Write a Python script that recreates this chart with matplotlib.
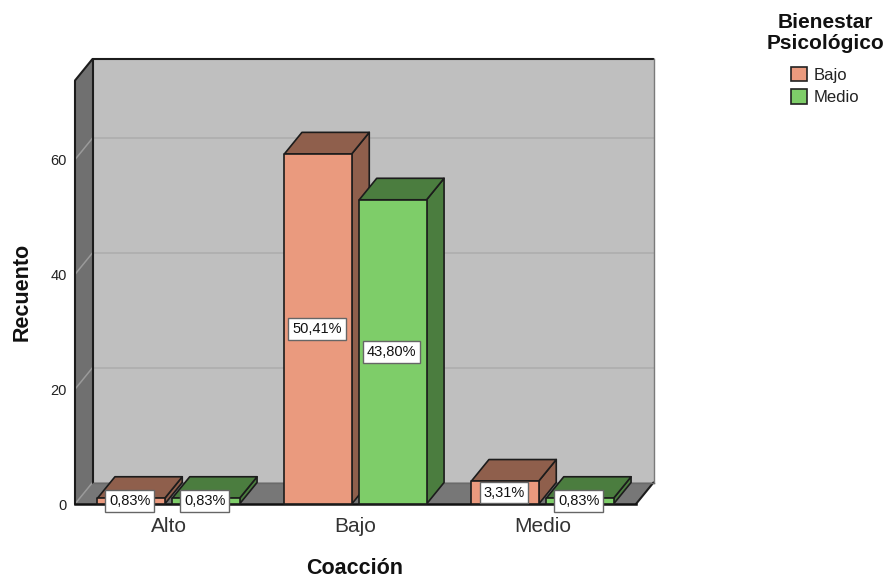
import matplotlib
matplotlib.use("Agg")
import matplotlib.pyplot as plt
from matplotlib.patches import Polygon, Patch

plt.rcParams["font.family"] = ["Liberation Sans", "DejaVu Sans"]

# Counts per coercion level, split by psychological well-being group
categories = ["Alto", "Bajo", "Medio"]
series_names = ["Bajo", "Medio"]
bajo_counts = [1, 61, 4]
medio_counts = [1, 53, 1]
bajo_labels = ["0,83%", "50,41%", "3,31%"]
medio_labels = ["0,83%", "43,80%", "0,83%"]
y_ticks = [0, 20, 40, 60]

W, H = 886, 579
LEFT, RIGHT, BOTTOM, TOP = 75, 636, 504, 80.5
PX_PER_COUNT = 5.74
PX_PER_CAT = (RIGHT - LEFT) / len(categories)

fig = plt.figure(figsize=(W / 100, H / 100), dpi=100, facecolor="white")
ax = fig.add_axes([LEFT / W, 1 - BOTTOM / H, (RIGHT - LEFT) / W, (BOTTOM - TOP) / H])
ax.set_xlim(0, len(categories))
ax.set_ylim(0, (BOTTOM - TOP) / PX_PER_COUNT)
ax.patch.set_visible(False)
for spine in ax.spines.values():
    spine.set_visible(False)

# Depth of the oblique projection, in data units
DX = 17.5 / PX_PER_CAT
DY = 21.5 / PX_PER_COUNT
YMAX = ax.get_ylim()[1]
XMAX = ax.get_xlim()[1]
EDGE = "#1c1c1c"


def face(points, fc, ec=EDGE, lw=1.2, z=1):
    ax.add_patch(Polygon(points, closed=True, fc=fc, ec=ec, lw=lw, zorder=z,
                         clip_on=False, joinstyle="round"))


# Chart box: back wall, floor, left wall
face([(DX, DY), (XMAX + DX, DY), (XMAX + DX, YMAX + DY), (DX, YMAX + DY)],
     "#bfbfbf", ec="none", lw=0)
face([(0, 0), (XMAX, 0), (XMAX + DX, DY), (DX, DY)], "#777777", ec="none", lw=0)
face([(0, 0), (DX, DY), (DX, YMAX + DY), (0, YMAX)], "#707070", ec="none", lw=0)

# Grid lines across the left wall and the back wall
for tick in y_ticks:
    ax.plot([0, DX], [tick, tick + DY], color="#9a9a9a", lw=1.1, zorder=2, clip_on=False)
    if tick > 0:
        ax.plot([DX, XMAX + DX], [tick + DY, tick + DY], color="#b0b0b0", lw=1.4,
                zorder=2, clip_on=False)

# Outline of the box
box = dict(color=EDGE, lw=1.5, zorder=3, clip_on=False, solid_capstyle="round")
ax.plot([0, 0], [0, YMAX], **box)
ax.plot([0, DX, XMAX + DX], [YMAX, YMAX + DY, YMAX + DY], **box)
ax.plot([DX, DX], [DY, YMAX + DY], **box)
ax.plot([XMAX, XMAX + DX], [0, DY], **box)
ax.plot([XMAX + DX, XMAX + DX], [DY, YMAX + DY], color="#7a7a7a", lw=1.0, zorder=3, clip_on=False)
ax.plot([DX, XMAX + DX], [DY, DY], color="#6a6a6a", lw=1.0, zorder=3, clip_on=False)
ax.plot([0, XMAX], [0, 0], color="#111111", lw=1.8, zorder=3, clip_on=False)

BAR_W = 0.36
OFFSET = 0.2
PALETTE = [("#ea9a7e", "#8f5f4c"), ("#7ecd69", "#4b7d3f")]
groups = [(bajo_counts, bajo_labels, -OFFSET), (medio_counts, medio_labels, OFFSET)]

# Bars are drawn left to right so each one overlaps its left neighbour
z = 4
for i in range(len(categories)):
    for s, (counts, labels, off) in enumerate(groups):
        front, shade = PALETTE[s]
        x0 = i + 0.5 + off - BAR_W / 2
        x1 = x0 + BAR_W
        v = counts[i]
        face([(x1, 0), (x1 + DX, DY), (x1 + DX, v + DY), (x1, v)], shade, z=z)
        face([(x0, v), (x1, v), (x1 + DX, v + DY), (x0 + DX, v + DY)], shade, z=z)
        face([(x0, 0), (x1, 0), (x1, v), (x0, v)], front, z=z)
        z += 1

# Percentage boxes sit above all the bars
for i in range(len(categories)):
    for counts, labels, off in groups:
        ax.text(i + 0.5 + off - 0.006, counts[i] / 2, labels[i], ha="center", va="center",
                fontsize=10.5, color="#111111", zorder=50, clip_on=False,
                bbox=dict(boxstyle="square,pad=0.26", fc="white", ec="#666666", lw=1.0))

ax.set_xticks([i + 0.5 for i in range(len(categories))], categories)
ax.set_yticks(y_ticks, [str(t) for t in y_ticks])
ax.tick_params(axis="x", length=0, pad=9, labelsize=15, labelcolor="#333333")
ax.tick_params(axis="y", length=0, pad=6, labelsize=10.5, labelcolor="#222222")

fig.text(355 / W, 1 - 569 / H, "Coacción", ha="center", va="center",
         fontsize=15.5, fontweight="bold", color="#111111")
fig.text(22 / W, 1 - 292 / H, "Recuento", ha="center", va="center", rotation=90,
         fontsize=15.5, fontweight="bold", color="#111111")

handles = [Patch(fc=PALETTE[s][0], ec="#222222", lw=1.2) for s in range(len(series_names))]
leg = fig.legend(handles, series_names, title="Bienestar\nPsicológico",
                 loc="upper left", bbox_to_anchor=(763 / W, 1 - 10 / H), frameon=False,
                 fontsize=12, labelcolor="#222222", handlelength=0.95, handleheight=0.95,
                 handletextpad=0.4, labelspacing=0.4, borderpad=0.2, borderaxespad=0,
                 title_fontproperties={"size": 15, "weight": "bold"})
leg.get_title().set_multialignment("center")
leg.get_title().set_linespacing(1.1)
leg.get_title().set_color("#111111")
leg._legend_box.sep = 10

fig.savefig("out.png", dpi=100)
